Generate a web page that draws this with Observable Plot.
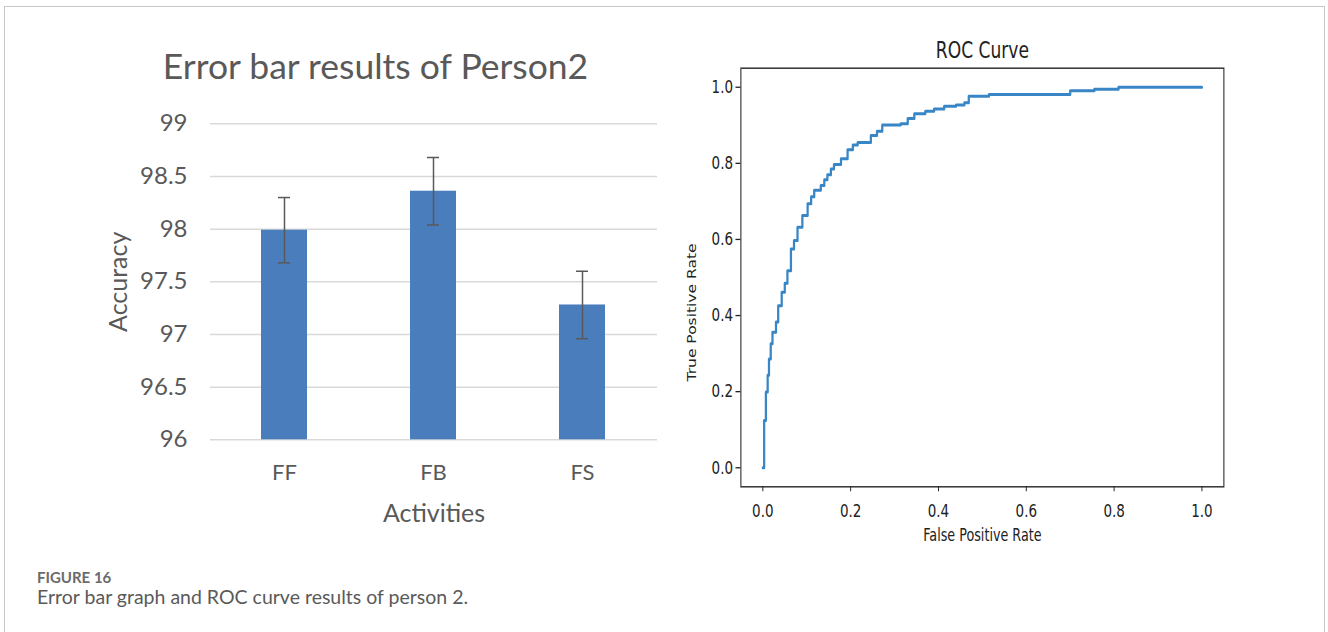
<!DOCTYPE html>
<html>
<head>
<meta charset="utf-8">
<script src="https://cdn.jsdelivr.net/npm/d3@7"></script>
<script src="https://cdn.jsdelivr.net/npm/@observablehq/plot@0.6"></script>
<style>
  html, body { margin: 0; padding: 0; background: #fff; width: 1328px; height: 632px; overflow: hidden; }
  #frame { position: absolute; left: 4px; top: 6px; width: 1321px; height: 700px; border: 1.5px solid #c8c8c8; box-sizing: border-box; }
  #left { position: absolute; left: 0; top: 0; width: 670px; }
  #right { position: absolute; left: 670px; top: 0; width: 790px; transform: scaleX(0.75); transform-origin: 0 0; }
  #left svg, #right svg { max-width: none !important; }
  #figlabel { position: absolute; left: 37px; top: 568px; font-family: Lato, sans-serif; font-weight: 700; font-size: 15px; color: #6b6b6b; }
  #figcap { position: absolute; left: 37px; top: 585px; font-family: Lato, sans-serif; font-size: 19.5px; color: #5a5a5a; }
</style>
</head>
<body>
<div id="frame"></div>
<div id="left"></div>
<div id="right"></div>
<div id="figlabel">FIGURE 16</div>
<div id="figcap">Error bar graph and ROC curve results of person 2.</div>
<script>
// ---- Left chart data: error bar results ----
const activities = ["FF", "FB", "FS"];
const accuracy = [97.99, 98.36, 97.28];
const errors = [0.31, 0.32, 0.32];
const accuracyTicks = [96, 96.5, 97, 97.5, 98, 98.5, 99];

// ---- Right chart data: ROC curve (corner points) ----
const fpr = [0, 0.003, 0.007, 0.011, 0.014, 0.018, 0.022, 0.030, 0.035, 0.043, 0.050, 0.056, 0.064, 0.071, 0.079, 0.090, 0.102, 0.110, 0.117, 0.132, 0.140, 0.147, 0.155, 0.162, 0.178, 0.193, 0.205, 0.216, 0.235, 0.246, 0.260, 0.272, 0.314, 0.330, 0.345, 0.370, 0.390, 0.413, 0.440, 0.459, 0.469, 0.515, 0.700, 0.755, 0.810, 1.0];
const tpr = [0, 0.124, 0.199, 0.243, 0.286, 0.326, 0.356, 0.383, 0.426, 0.461, 0.485, 0.518, 0.575, 0.597, 0.632, 0.663, 0.694, 0.712, 0.729, 0.742, 0.757, 0.770, 0.785, 0.797, 0.812, 0.836, 0.848, 0.855, 0.855, 0.873, 0.884, 0.901, 0.904, 0.918, 0.930, 0.937, 0.943, 0.950, 0.953, 0.959, 0.976, 0.981, 0.991, 0.995, 1.0, 1.0];
const rocTicks = [0, 0.2, 0.4, 0.6, 0.8, 1.0];

const rows = activities.map((a, i) => ({activity: a, value: accuracy[i], err: errors[i]}));
const roc = fpr.map((f, i) => ({fpr: f, tpr: tpr[i]}));

const left = Plot.plot({
  width: 670, height: 560,
  marginLeft: 210, marginRight: 13, marginTop: 123.3, marginBottom: 120.7,
  x: {domain: activities, paddingInner: 0.69, paddingOuter: 0.345},
  y: {domain: [96, 99]},
  style: {fontFamily: "Lato, sans-serif", fontSize: "22px", color: "#595959", background: "transparent", overflow: "visible"},
  marks: [
    Plot.gridY(accuracyTicks, {stroke: "#d9d9d9", strokeOpacity: 1, strokeWidth: 1.5}),
    Plot.barY(rows, {x: "activity", y1: 96, y2: "value", fill: "#4a7dbc"}),
    Plot.ruleX(rows, {x: "activity", y1: d => d.value - d.err, y2: d => d.value + d.err, stroke: "#595959", strokeWidth: 1.5}),
    Plot.tickY(rows, {x: "activity", y: d => d.value + d.err, stroke: "#595959", strokeWidth: 1.5, inset: 17}),
    Plot.tickY(rows, {x: "activity", y: d => d.value - d.err, stroke: "#595959", strokeWidth: 1.5, inset: 17}),
    Plot.axisY({ticks: accuracyTicks, tickSize: 0, tickPadding: 23, label: null, fontSize: 24, tickFormat: d => String(d)}),
    Plot.axisX({tickSize: 0, tickPadding: 25, label: null, fontSize: 22}),
    Plot.text(["Accuracy"], {text: d => d, frameAnchor: "left", textAnchor: "middle", lineAnchor: "middle", dx: -92, rotate: -90, fontSize: 25, fill: "#595959"}),
    Plot.text(["Activities"], {text: d => d, frameAnchor: "bottom", textAnchor: "middle", lineAnchor: "middle", dy: 73.7, fontSize: 25, fill: "#595959"}),
    Plot.text(["Error bar results of Person2"], {text: d => d, frameAnchor: "top", textAnchor: "middle", lineAnchor: "middle", dx: -58.5, dy: -56.3, fontSize: 35.5, fill: "#595959"})
  ]
});
document.getElementById("left").appendChild(left);

const right = Plot.plot({
  width: 790, height: 570,
  marginLeft: 94, marginRight: 52, marginTop: 67.7, marginBottom: 83.7,
  x: {domain: [-0.05, 1.05]},
  y: {domain: [-0.05, 1.05]},
  style: {fontFamily: "'DejaVu Sans', sans-serif", fontSize: "18px", color: "#222", background: "transparent", overflow: "visible"},
  marks: [
    Plot.line(roc, {x: "fpr", y: "tpr", curve: "step-after", stroke: "#3886c6", strokeWidth: 3}),
    Plot.frame({stroke: "#333", strokeWidth: 1.5}),
    Plot.axisX({ticks: rocTicks, tickFormat: d3.format(".1f"), tickSize: 5, tickPadding: 12.6, label: null, strokeWidth: 1.3}),
    Plot.axisY({ticks: rocTicks, tickFormat: d3.format(".1f"), tickSize: 6.7, tickPadding: 3.7, label: null, strokeWidth: 1.3}),
    Plot.text(["ROC Curve"], {text: d => d, frameAnchor: "top", textAnchor: "middle", lineAnchor: "middle", dy: -17.7, fontSize: 22.8, fill: "#222"}),
    Plot.text(["False Positive Rate"], {text: d => d, frameAnchor: "bottom", textAnchor: "middle", lineAnchor: "middle", dy: 48.7, fontSize: 17, fill: "#222"}),
    Plot.text(["True Positive Rate"], {text: d => d, frameAnchor: "left", textAnchor: "middle", lineAnchor: "middle", dx: -64.7, dy: 35, rotate: -90, fontSize: 15.5, fill: "#222"})
  ]
});
document.getElementById("right").appendChild(right);
</script>
</body>
</html>
